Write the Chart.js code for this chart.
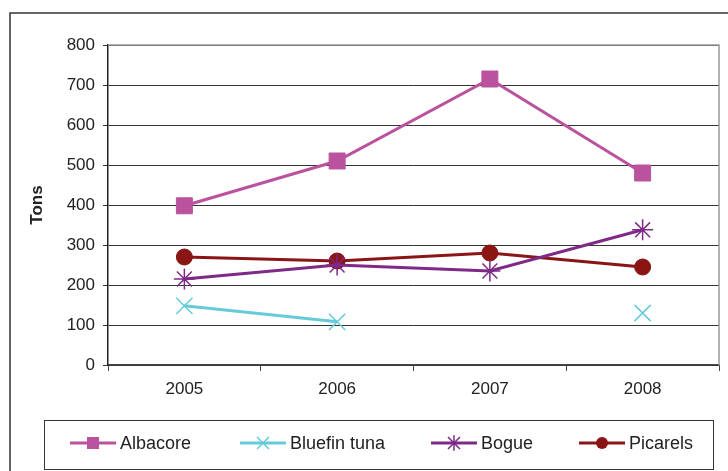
<!DOCTYPE html>
<html>
<head>
<meta charset="utf-8">
<script src="https://cdn.jsdelivr.net/npm/chart.js@4"></script>
<style>
  html, body { margin: 0; padding: 0; background: #fff; }
  #wrap { width: 728px; height: 471px; }
</style>
</head>
<body>
<div id="wrap"><canvas id="fishChart" width="728" height="471"></canvas></div>
<script>
const years = ['2005', '2006', '2007', '2008'];
const albacore = [398, 510, 715, 480];
const bluefinTuna = [148, 108, null, 130];
const bogue = [215, 250, 235, 338];
const picarels = [270, 260, 280, 245];
const yTicks = [0, 100, 200, 300, 400, 500, 600, 700, 800];

const FONT = 'Liberation Sans, Arial, sans-serif';

function drawMarker(ctx, style, x, y, r, color) {
  ctx.save();
  ctx.strokeStyle = color;
  ctx.fillStyle = color;
  ctx.lineWidth = 1.5;
  ctx.beginPath();
  if (style === 'rect') {
    ctx.fillRect(x - r, y - r, 2 * r, 2 * r);
  } else if (style === 'circle') {
    ctx.arc(x, y, r, 0, Math.PI * 2);
    ctx.fill();
  } else if (style === 'crossRot') {
    ctx.moveTo(x - r, y - r); ctx.lineTo(x + r, y + r);
    ctx.moveTo(x - r, y + r); ctx.lineTo(x + r, y - r);
    ctx.stroke();
  } else if (style === 'star') {
    ctx.moveTo(x - r, y - r); ctx.lineTo(x + r, y + r);
    ctx.moveTo(x - r, y + r); ctx.lineTo(x + r, y - r);
    ctx.moveTo(x, y - r * 1.3); ctx.lineTo(x, y + r * 1.3);
    ctx.stroke();
  }
  ctx.restore();
}

const frame = {
  id: 'frame',
  afterDraw(chart) {
    const ctx = chart.ctx;
    const a = chart.chartArea;
    ctx.save();
    // outer border
    ctx.strokeStyle = '#333';
    ctx.lineWidth = 1.5;
    ctx.strokeRect(10, 13, 740, 480);
    // plot area top/right edge
    ctx.strokeStyle = '#999';
    ctx.lineWidth = 1.5;
    ctx.beginPath();
    ctx.moveTo(a.left, a.top);
    ctx.lineTo(a.right, a.top);
    ctx.lineTo(a.right, a.bottom);
    ctx.stroke();
    // legend box
    ctx.strokeStyle = '#333';
    ctx.lineWidth = 1;
    ctx.strokeRect(44.5, 420.5, 669, 49);
    const xs = [70, 240, 431, 579];
    const sizes = { rect: 6, crossRot: 6, star: 6, circle: 6 };
    ctx.font = '18px ' + FONT;
    ctx.textBaseline = 'middle';
    chart.data.datasets.forEach((ds, i) => {
      const x0 = xs[i], y0 = 443;
      ctx.strokeStyle = ds.borderColor;
      ctx.lineWidth = 3;
      ctx.beginPath();
      ctx.moveTo(x0, y0);
      ctx.lineTo(x0 + 46, y0);
      ctx.stroke();
      drawMarker(ctx, ds.pointStyle, x0 + 23, y0, sizes[ds.pointStyle], ds.borderColor);
      ctx.fillStyle = '#222';
      ctx.fillText(ds.label, x0 + 50, y0 + 1);
    });
    ctx.restore();
  }
};

new Chart(document.getElementById('fishChart'), {
  type: 'line',
  data: {
    labels: years,
    datasets: [
      { label: 'Albacore', data: albacore, borderColor: '#bb529e', backgroundColor: '#bb529e',
        pointStyle: 'rect', pointRadius: 11.3, pointHoverRadius: 11.3 },
      { label: 'Bluefin tuna', data: bluefinTuna, borderColor: '#66cbd9', backgroundColor: '#66cbd9',
        pointStyle: 'crossRot', pointRadius: 11.5, pointBorderWidth: 1.5 },
      { label: 'Bogue', data: bogue, borderColor: '#7e2a86', backgroundColor: '#7e2a86',
        pointStyle: 'star', pointRadius: 10.5, pointBorderWidth: 1.5 },
      { label: 'Picarels', data: picarels, borderColor: '#8b1515', backgroundColor: '#8b1515',
        pointStyle: 'circle', pointRadius: 8 }
    ]
  },
  options: {
    responsive: false,
    animation: false,
    spanGaps: false,
    elements: { line: { borderWidth: 3, tension: 0 } },
    layout: { autoPadding: false, padding: { left: 27, top: 45, right: 9, bottom: 0 } },
    plugins: { legend: { display: false }, tooltip: { enabled: false } },
    scales: {
      x: {
        offset: true,
        afterFit(scale) { scale.height = 106; },
        grid: { offset: true, drawOnChartArea: false, tickLength: 6, color: '#444' },
        border: { color: '#444', width: 1.5 },
        ticks: { color: '#222', padding: 8, font: { family: FONT, size: 17 } }
      },
      y: {
        min: 0,
        max: 800,
        afterFit(scale) { scale.width = 81; },
        afterBuildTicks(scale) { scale.ticks = yTicks.map(v => ({ value: v })); },
        grid: { color: '#333', tickLength: 5, lineWidth: 1 },
        border: { color: '#222', width: 1.5 },
        ticks: { color: '#222', padding: 8, font: { family: FONT, size: 17 } },
        title: {
          display: true, text: 'Tons', color: '#222', padding: 0,
          font: { family: FONT, size: 17, weight: 'bold' }
        }
      }
    }
  },
  plugins: [frame]
});
</script>
</body>
</html>
